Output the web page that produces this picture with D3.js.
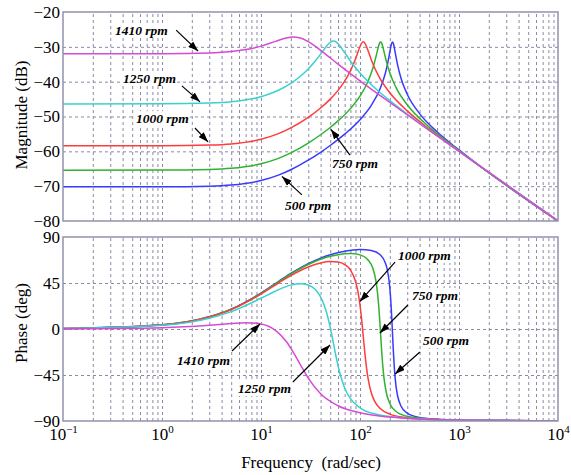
<!DOCTYPE html>
<html><head><meta charset="utf-8">
<script src="https://cdn.jsdelivr.net/npm/d3@7"></script>
<style>body{margin:0;background:#fff}svg{display:block}</style>
</head><body>
<svg id="c" width="571" height="475"></svg>
<script>
// ---------- data ----------
const freq500 = [0.1, 1, 3, 5, 10, 15, 20, 30, 40, 50, 70, 100, 130, 160, 180, 190, 200, 205, 209, 213, 217, 222, 230, 240, 260, 300, 400, 600, 1000, 10000];
const mag500 = [-70.20, -70.18, -70.00, -69.68, -68.39, -66.84, -65.30, -62.55, -60.27, -58.32, -55.07, -50.90, -46.80, -41.97, -37.66, -34.85, -31.54, -29.91, -28.95, -28.61, -28.99, -30.20, -32.59, -35.24, -39.07, -43.60, -49.18, -54.40, -59.60, -80.0];
const phase500 = [0.41, 4.06, 11.99, 19.48, 35.20, 46.46, 54.32, 63.93, 69.29, 72.55, 76.01, 77.66, 76.80, 72.63, 64.91, 56.64, 40.46, 26.70, 12.18, -4.45, -20.67, -37.22, -54.23, -65.56, -75.61, -82.40, -86.62, -88.39, -89.18, -89.9];

const freq750 = [0.1, 1, 3, 5, 10, 15, 20, 30, 40, 50, 60, 80, 100, 120, 135, 145, 150, 155, 158, 161.5, 165, 170, 175, 185, 200, 230, 300, 500, 1000, 10000];
const mag750 = [-65.40, -65.38, -65.20, -64.88, -63.58, -62.01, -60.44, -57.62, -55.24, -53.15, -51.26, -47.74, -44.16, -40.02, -36.09, -32.83, -31.09, -29.52, -28.87, -28.59, -28.88, -30.00, -31.45, -34.24, -37.45, -41.55, -46.63, -53.04, -59.77, -80.0];
const phase750 = [0.40, 4.03, 11.91, 19.35, 34.94, 46.07, 53.80, 63.14, 68.18, 71.08, 72.74, 73.80, 72.49, 67.83, 59.16, 46.68, 36.06, 20.88, 9.47, -5.11, -19.38, -36.37, -48.52, -62.84, -72.81, -80.45, -85.45, -88.15, -89.21, -89.9];

const freq1000 = [0.1, 1, 3, 5, 10, 15, 20, 30, 40, 50, 60, 70, 80, 90, 95, 100, 104, 108, 112, 116, 120, 130, 140, 160, 200, 300, 500, 1000, 10000];
const mag1000 = [-58.41, -58.39, -58.20, -57.87, -56.54, -54.92, -53.28, -50.25, -47.55, -45.01, -42.50, -39.84, -36.89, -33.48, -31.64, -29.92, -28.92, -28.56, -28.92, -29.81, -30.93, -33.68, -35.92, -39.17, -43.17, -48.38, -53.58, -59.90, -80.0];
const phase1000 = [0.40, 3.96, 11.69, 18.98, 34.20, 44.94, 52.26, 60.67, 64.58, 65.97, 65.48, 63.05, 57.71, 46.77, 37.28, 23.46, 8.87, -7.68, -23.6, -36.85, -46.97, -62.38, -70.28, -77.79, -83.22, -86.77, -88.36, -89.24, -89.9];

const freq1250 = [0.1, 1, 3, 5, 10, 15, 20, 25, 30, 35, 40, 45, 50, 54, 58, 62, 70, 80, 100, 150, 200, 300, 500, 1000, 10000];
const mag1250 = [-46.39, -46.37, -46.16, -45.80, -44.34, -42.47, -40.47, -38.44, -36.35, -34.23, -32.10, -30.10, -28.70, -28.35, -28.72, -29.57, -31.68, -34.06, -37.51, -42.46, -45.43, -49.29, -53.89, -59.98, -80.0];
const phase1250 = [0.36, 3.56, 10.50, 16.98, 30.07, 38.42, 42.92, 44.36, 43.13, 39.06, 31.42, 19.09, 1.64, -14.37, -29.4, -41.6, -57.64, -68.1, -77.1, -83.64, -85.7, -87.36, -88.47, -89.25, -89.9];

const freq1410 = [0.1, 1, 3, 5, 7, 10, 14, 18, 21, 25, 30, 40, 60, 100, 200, 500, 1000, 10000];
const mag1410 = [-32.0, -31.97, -31.75, -31.35, -30.79, -29.79, -28.43, -27.47, -27.21, -27.49, -28.49, -30.99, -34.96, -39.76, -45.96, -53.97, -60.0, -80.0];
const phase1410 = [0.13, 1.31, 3.68, 5.41, 6.16, 4.96, -1.32, -12.26, -22.13, -35.0, -47.97, -63.3, -75.1, -82.0, -86.2, -88.5, -89.25, -89.9];

const magTicks = [-20, -30, -40, -50, -60, -70, -80];
const phaseTicks = [90, 45, 0, -45, -90];
const freqTicks = [0.1, 1, 10, 100, 1000, 10000];
const freqTickExp = ["\u22121", "0", "1", "2", "3", "4"];

// ---------- layout ----------
const L = 63, R = 558, T1 = 12, B1 = 221, T2 = 237, B2 = 421;
const FONT = "'Liberation Serif','Times New Roman',serif";
const gridColor = "#8a8aa6", frameColor = "#9292ae";

const series = [
  {name: "500 rpm",  color: "#3a3aff", f: freq500,  mag: mag500,  ph: phase500},
  {name: "750 rpm",  color: "#2fb22f", f: freq750,  mag: mag750,  ph: phase750},
  {name: "1000 rpm", color: "#ff3b3b", f: freq1000, mag: mag1000, ph: phase1000},
  {name: "1250 rpm", color: "#3ad0d0", f: freq1250, mag: mag1250, ph: phase1250},
  {name: "1410 rpm", color: "#d64ad6", f: freq1410, mag: mag1410, ph: phase1410}
];

const svg = d3.select("#c");
const x = d3.scaleLog().domain([0.1, 1e4]).range([L, R]);
const yMag = d3.scaleLinear().domain([-80, -20]).range([B1, T1]);
const yPh = d3.scaleLinear().domain([-90, 90]).range([B2, T2]);

const gridFreqs = [];
[0.1, 1, 10, 100, 1000].forEach(d => { for (let k = 1; k <= 9; k++) { const v = +(k * d).toPrecision(3); if (v > 0.1) gridFreqs.push(v); } });

const defs = svg.append("defs");
defs.append("marker").attr("id", "arr").attr("viewBox", "0 0 10 7")
  .attr("refX", 10).attr("refY", 3.5).attr("markerWidth", 10).attr("markerHeight", 7)
  .attr("markerUnits", "userSpaceOnUse").attr("orient", "auto")
  .append("path").attr("d", "M0,0L10,3.5L0,7Z").attr("fill", "#000");

function panel(id, y, top, bottom, ticks, key) {
  defs.append("clipPath").attr("id", id).append("rect")
    .attr("x", L).attr("y", top).attr("width", R - L).attr("height", bottom - top);
  // vertical grid
  const gx = svg.append("g").attr("transform", `translate(0,${bottom})`)
    .call(d3.axisBottom(x).tickValues(gridFreqs.filter(v => v < 1e4)).tickSize(-(bottom - top)).tickFormat(""));
  gx.select(".domain").remove();
  gx.selectAll("line").attr("stroke", gridColor).attr("stroke-dasharray", "3,3");
  // horizontal grid
  const gy = svg.append("g").attr("transform", `translate(${L},0)`)
    .call(d3.axisLeft(y).tickValues(ticks.slice(1, -1)).tickSize(-(R - L)).tickFormat(""));
  gy.select(".domain").remove();
  gy.selectAll("line").attr("stroke", gridColor).attr("stroke-dasharray", "3,3");
  // y labels
  const ga = svg.append("g").attr("transform", `translate(${L},0)`)
    .call(d3.axisLeft(y).tickValues(ticks).tickSize(0).tickPadding(3).tickFormat(d3.format("d")));
  ga.select(".domain").remove();
  ga.selectAll("text").attr("font-family", FONT).attr("font-size", 17).attr("fill", "#000");
  // curves
  const line = d3.line().curve(d3.curveMonotoneX);
  const gc = svg.append("g").attr("clip-path", `url(#${id})`);
  series.forEach(s => {
    const pts = s.f.map((f, i) => [x(f), y(s[key][i])]);
    gc.append("path").attr("d", line(pts)).attr("fill", "none")
      .attr("stroke", s.color).attr("stroke-width", 1.5);
  });
  // frame
  svg.append("rect").attr("x", L).attr("y", top).attr("width", R - L).attr("height", bottom - top)
    .attr("fill", "none").attr("stroke", frameColor).attr("stroke-width", 1.5);
}

panel("cm", yMag, T1, B1, magTicks, "mag");
panel("cp", yPh, T2, B2, phaseTicks, "ph");

// x tick labels
const gxl = svg.append("g").attr("transform", `translate(0,${B2})`)
  .call(d3.axisBottom(x).tickValues(freqTicks).tickSize(0).tickPadding(0).tickFormat(""));
gxl.select(".domain").remove();
gxl.selectAll(".tick").each(function (d, i) {
  const t = d3.select(this).select("text").attr("y", 19).attr("dy", 0)
    .attr("font-family", FONT).attr("font-size", 17).attr("fill", "#000").attr("text-anchor", "middle");
  t.append("tspan").text("10");
  t.append("tspan").attr("font-size", 11).attr("dy", -7).text(freqTickExp[i]);
});

// axis titles
svg.append("text").attr("x", 311).attr("y", 468).attr("text-anchor", "middle")
  .attr("font-family", FONT).attr("font-size", 17).attr("xml:space", "preserve").text("Frequency  (rad/sec)");
svg.append("text").attr("transform", "translate(27,115) rotate(-90)").attr("text-anchor", "middle")
  .attr("font-family", FONT).attr("font-size", 17).text("Magnitude (dB)");
svg.append("text").attr("transform", "translate(27,323) rotate(-90)").attr("text-anchor", "middle")
  .attr("font-family", FONT).attr("font-size", 17).text("Phase (deg)");

// annotations: text anchor (freq, value), arrow from -> to, in data units
const notesMag = [
  {t: "1410 rpm", tx: 0.335, ty: -26.6, f0: 1.39, v0: -25.2, f1: 2.31, v1: -31.2},
  {t: "1250 rpm", tx: 0.404, ty: -40.4, f0: 1.59, v0: -41.2, f1: 2.42, v1: -45.8},
  {t: "1000 rpm", tx: 0.546, ty: -51.9, f0: 2.15, v0: -53.3, f1: 2.92, v1: -57.3},
  {t: "750 rpm",  tx: 52.1,  ty: -64.8, f0: 79.2, v0: -61.1, f1: 50.9, v1: -53.7},
  {t: "500 rpm",  tx: 17.5,  ty: -76.8, f0: 25.9, v0: -72.5, f1: 16.3, v1: -67.2}
];
const notesPh = [
  {t: "1410 rpm", tx: 1.42, ty: -35.2, f0: 5.09, v0: -21.5, f1: 9.77, v1: 4.9},
  {t: "1250 rpm", tx: 5.86, ty: -62.6, f0: 21.0, v0: -51.8, f1: 49.8, v1: -15.7},
  {t: "1000 rpm", tx: 242,  ty: 67.5,  f0: 226,  v0: 65.5,  f1: 100,  v1: 27.0},
  {t: "750 rpm",  tx: 335,  ty: 28.4,  f0: 305,  v0: 23.5,  f1: 159,  v1: -3.9},
  {t: "500 rpm",  tx: 432,  ty: -15.7, f0: 403,  v0: -22.5, f1: 226,  v1: -44.0}
];
function annotate(notes, y) {
  const g = svg.append("g");
  notes.forEach(n => {
    const bg = g.append("rect").attr("fill", "#fff");
    const tx = g.append("text").attr("x", x(n.tx)).attr("y", y(n.ty))
      .attr("font-family", FONT).attr("font-size", 13.5).attr("font-weight", "bold")
      .attr("font-style", "italic").text(n.t);
    const b = tx.node().getBBox();
    bg.attr("x", b.x - 1).attr("y", b.y).attr("width", b.width + 2).attr("height", b.height);
    g.append("line").attr("x1", x(n.f0)).attr("y1", y(n.v0)).attr("x2", x(n.f1)).attr("y2", y(n.v1))
      .attr("stroke", "#000").attr("stroke-width", 1.2).attr("marker-end", "url(#arr)");
  });
}
annotate(notesMag, yMag);
annotate(notesPh, yPh);
</script>
</body></html>
